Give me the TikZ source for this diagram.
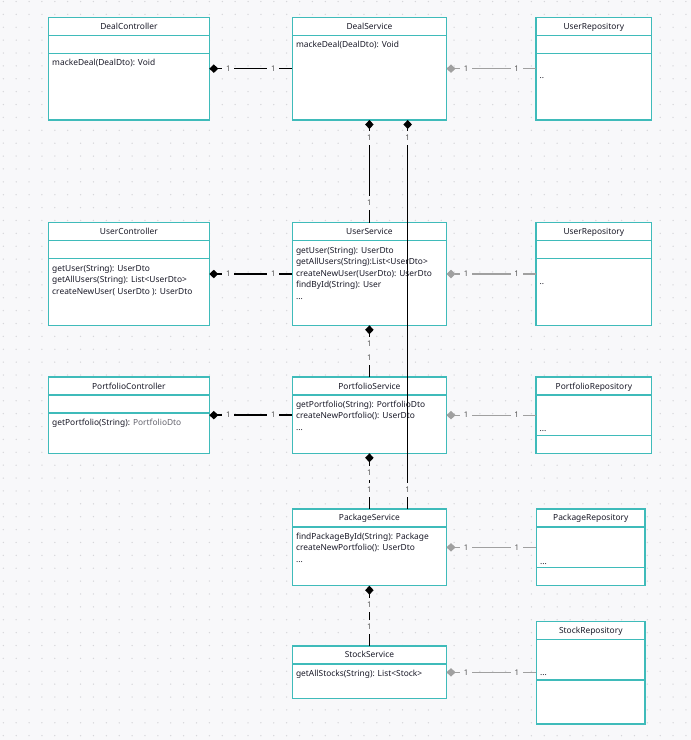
\documentclass[tikz,border=0pt]{standalone}
\usepackage{fontspec}
\setmainfont{Noto Sans}
\usetikzlibrary{arrows.meta}
\definecolor{bgc}{HTML}{F8F8FA}
\definecolor{tealc}{HTML}{3FBBBA}
\definecolor{txtc}{HTML}{1A1A28}
\definecolor{gridc}{HTML}{D6D6DA}
\definecolor{lblc}{HTML}{505050}
\definecolor{greyc}{HTML}{A0A0A0}
\definecolor{softc}{HTML}{666670}
\begin{document}
\begin{tikzpicture}[x=1pt,y=-1pt,
  umlbox/.style={draw=tealc, line width=1.5pt, fill=white, anchor=north west, inner sep=0pt, outer sep=0pt},
  sepline/.style={draw=tealc, line width=1.5pt},
  ttl/.style={font=\fontsize{8.4}{10}\selectfont, text=txtc, anchor=base, inner sep=0pt, yshift=-3pt},
  meth/.style={font=\fontsize{8.4}{10}\selectfont, text=txtc, anchor=base west, inner sep=0pt, yshift=-3pt},
  mult/.style={font=\fontsize{7.8}{9}\selectfont, text=lblc, fill=bgc, inner sep=0pt, minimum width=12pt, minimum height=14pt},
  comp/.style={line width=1.5pt, draw=black, {Diamond[length=9pt,width=8.5pt]}-},
  compg/.style={line width=1.2pt, draw=greyc, {Diamond[length=9pt,width=8.5pt,color=greyc,fill=greyc]}-},
]
\useasboundingbox (0,0) rectangle (691,740);
\fill[bgc] (0,0) rectangle (691,740);
\foreach \i in {0,...,53}{\foreach \j in {0,...,57}{\fill[gridc] (3.3+12.88*\i,1.5+12.88*\j) circle (0.75);}}

% ---------- boxes ----------
\node[umlbox, minimum width=160.8pt, minimum height=102.7pt] (dc) at (48.5,17.3) {};
\node[umlbox, minimum width=154.2pt, minimum height=102.7pt] (ds) at (292.3,17.3) {};
\node[umlbox, minimum width=115.7pt, minimum height=102.7pt] (ur1) at (536,17.3) {};
\node[umlbox, minimum width=160.8pt, minimum height=102.6pt] (uc) at (48.5,222.7) {};
\node[umlbox, minimum width=154.2pt, minimum height=102.6pt] (us) at (292.3,222.7) {};
\node[umlbox, minimum width=115.7pt, minimum height=102.6pt] (ur2) at (536,222.7) {};
\node[umlbox, minimum width=160.8pt, minimum height=76.3pt] (pc) at (48.5,377) {};
\node[umlbox, minimum width=154.2pt, minimum height=76.3pt] (ps) at (292.3,377) {};
\node[umlbox, minimum width=115.7pt, minimum height=76.3pt] (pr) at (536,377) {};
\node[umlbox, minimum width=154.2pt, minimum height=76.7pt] (pks) at (292.3,509) {};
\node[umlbox, minimum width=108.8pt, minimum height=76.7pt] (pkr) at (536.4,509) {};
\node[umlbox, minimum width=154.2pt, minimum height=52.7pt] (ss) at (292.3,646) {};
\node[umlbox, minimum width=108.8pt, minimum height=102.7pt] (sr) at (536.4,621.3) {};

% compartment lines
\foreach \b in {dc,ds,ur1,uc,us,ur2,pc,ps,pr,pks,pkr,ss,sr}{
  \draw[sepline] ([yshift=-18pt]\b.north west) -- ([yshift=-18pt]\b.north east);}
\foreach \b in {dc,ur1,uc,ur2,pc}{
  \draw[sepline] ([yshift=-36pt]\b.north west) -- ([yshift=-36pt]\b.north east);}
\foreach \b in {pr,pkr,sr}{
  \draw[sepline] ([yshift=-58.7pt]\b.north west) -- ([yshift=-58.7pt]\b.north east);}

% titles
\node[ttl] (t-dc) at (128.9,26.2) {DealController};
\node[ttl] (t-ds) at (369.4,26.2) {DealService};
\node[ttl] (t-ur1) at (593.9,26.2) {UserRepository};
\node[ttl] (t-uc) at (128.9,231.7) {UserController};
\node[ttl] (t-us) at (369.4,231.7) {UserService};
\node[ttl] (t-ur2) at (593.9,231.7) {UserRepository};
\node[ttl] (t-pc) at (128.9,386) {PortfolioController};
\node[ttl] (t-ps) at (369.4,386) {PortfolioService};
\node[ttl] (t-pr) at (593.9,386) {PortfolioRepository};
\node[ttl] (t-pks) at (369.4,517.9) {PackageService};
\node[ttl] (t-pkr) at (590.8,517.9) {PackageRepository};
\node[ttl] (t-ss) at (369.4,654.8) {StockService};
\node[ttl] (t-sr) at (590.8,630.3) {StockRepository};

% members
\node[meth] (m-dc1) at (52,62.3) {mackeDeal(DealDto): Void};
\node[meth] (m-ds1) at (295.8,44.3) {mackeDeal(DealDto): Void};
\node[meth] (m-ur1) at (539.5,75) {..};
\node[meth] (m-uc1) at (52,268) {getUser(String): UserDto};
\node[meth] (m-uc2) at (52,279.5) {getAllUsers(String): List<UserDto>};
\node[meth] (m-uc3) at (52,291) {createNewUser( UserDto ): UserDto};
\node[meth] (m-us1) at (295.8,250) {getUser(String): UserDto};
\node[meth] (m-us2) at (295.8,261.5) {getAllUsers(String):List<UserDto>};
\node[meth] (m-us3) at (295.8,273) {createNewUser(UserDto): UserDto};
\node[meth] (m-us4) at (295.8,284.5) {findById(String): User};
\node[meth] (m-us5) at (295.8,296) {...};
\node[meth] (m-ur2) at (539.5,281.7) {..};
\node[meth] (m-pc1) at (52,422) {getPortfolio(String): \textcolor{softc}{PortfolioDto}};
\node[meth] (m-ps1) at (295.8,404) {getPortfolio(String): PortfolioDto};
\node[meth] (m-ps2) at (295.8,415.5) {createNewPortfolio(): UserDto};
\node[meth] (m-ps3) at (295.8,427) {...};
\node[meth] (m-pr1) at (539.5,428.7) {...};
\node[meth] (m-pks1) at (295.8,536) {findPackageById(String): Package};
\node[meth] (m-pks2) at (295.8,547.7) {createNewPortfolio(): UserDto};
\node[meth] (m-pks3) at (295.8,559.5) {...};
\node[meth] (m-pkr1) at (539.9,561) {...};
\node[meth] (m-sr1) at (539.9,672) {...};
\node[meth] (m-ss1) at (295.8,673.3) {getAllStocks(String): List<Stock>};

% ---------- horizontal connectors ----------
\draw[comp] (dc.east) -- (ds.west);
\node[mult] (l1a) at ([xshift=19pt]dc.east) {1};
\node[mult] (l1b) at ([xshift=-19pt]ds.west) {1};
\draw[comp] (uc.east) -- (us.west);
\node[mult] (l2a) at ([xshift=19pt]uc.east) {1};
\node[mult] (l2b) at ([xshift=-19pt]us.west) {1};
\draw[comp] (pc.east) -- (ps.west);
\node[mult] (l3a) at ([xshift=19pt]pc.east) {1};
\node[mult] (l3b) at ([xshift=-19pt]ps.west) {1};

\draw[compg] (ds.east) -- (ur1.west);
\node[mult] (g1a) at ([xshift=19.5pt]ds.east) {1};
\node[mult] (g1b) at ([xshift=-19.5pt]ur1.west) {1};
\draw[compg] (us.east) -- (ur2.west);
\node[mult] (g2a) at ([xshift=19.5pt]us.east) {1};
\node[mult] (g2b) at ([xshift=-19.5pt]ur2.west) {1};
\draw[compg] (ps.east) -- (pr.west);
\node[mult] (g3a) at ([xshift=19.5pt]ps.east) {1};
\node[mult] (g3b) at ([xshift=-19.5pt]pr.west) {1};
\draw[compg] (pks.east) -- (pks.east -| pkr.west);
\node[mult] (g4a) at ([xshift=19.5pt]pks.east) {1};
\node[mult] (g4b) at ([xshift=-19.5pt]pks.east -| pkr.west) {1};
\draw[compg] (ss.east) -- (ss.east -| sr.west);
\node[mult] (g5a) at ([xshift=19.5pt]ss.east) {1};
\node[mult] (g5b) at ([xshift=-19.5pt]ss.east -| sr.west) {1};

% ---------- vertical connectors ----------
\draw[comp] (ds.south) -- (us.north);
\node[mult] (v1a) at ([yshift=-18pt]ds.south) {1};
\node[mult] (v1b) at ([yshift=19.5pt]us.north) {1};
\draw[comp] (us.south) -- (ps.north);
\node[mult] (v2a) at ([yshift=-18.5pt]us.south) {1};
\node[mult] (v2b) at ([yshift=19.5pt]ps.north) {1};
\draw[comp] (ps.south) -- (pks.north);
\node[mult] (v3a) at ([yshift=-19.5pt]ps.south) {1};
\node[mult] (v3b) at ([yshift=19pt]pks.north) {1};
\draw[comp] (pks.south) -- (ss.north);
\node[mult] (v4a) at ([yshift=-19.3pt]pks.south) {1};
\node[mult] (v4b) at ([yshift=19.3pt]ss.north) {1};

% long connector DealService -> PackageService
\coordinate (lt) at ([xshift=38.3pt]ds.south);
\coordinate (lb) at (lt |- pks.north);
\draw[comp, line width=1pt, {Diamond[length=9pt,width=8.5pt]}-] (lt) -- (lb);
\node[mult] (v5a) at ([yshift=-18pt]lt) {1};
\node[mult] (v5b) at ([yshift=19pt]lb) {1};
\end{tikzpicture}
\end{document}
